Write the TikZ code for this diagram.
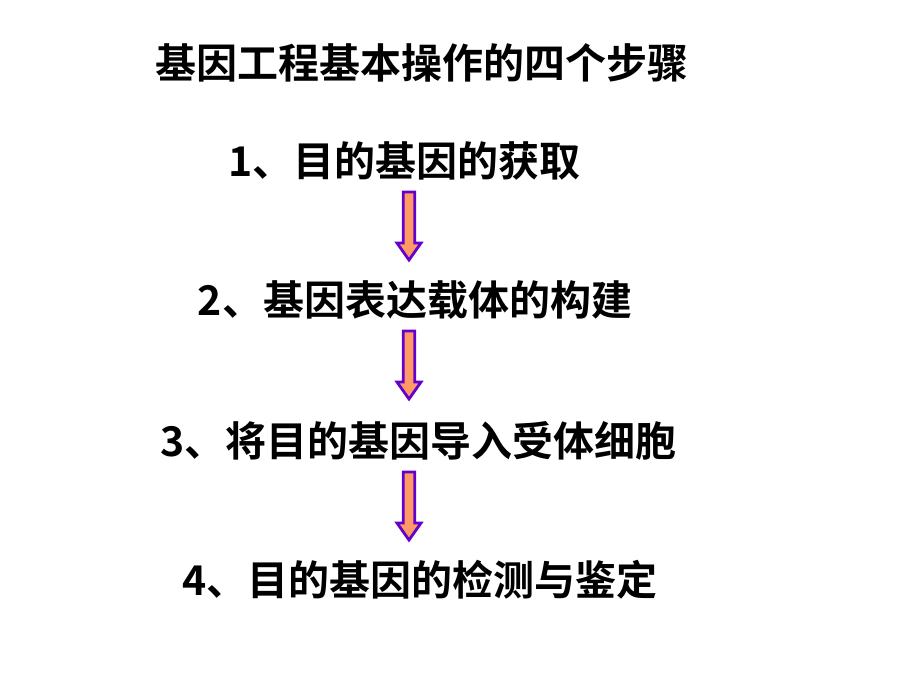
\documentclass[tikz,border=0pt]{standalone}
\usepackage{fontspec}
\usepackage{xcolor}
\usepackage{tikz}
\usetikzlibrary{positioning,calc}
\newfontfamily\cjk{Noto Sans CJK SC Bold}
\definecolor{arrowfill}{RGB}{255,153,102}
\definecolor{arrowline}{RGB}{102,0,204}
\tikzset{
    steptext/.style={font=\cjk\fontsize{41}{49}\selectfont, inner sep=0pt},
    blockarrow/.style={fill=arrowfill, draw=arrowline, line width=2.8pt, line join=miter}
}

\begin{document}
\begin{tikzpicture}[x=1pt,y=-1pt]
    \useasboundingbox (0,0) rectangle (920,690);
    % Title
    \node[steptext] (title) at (421.5,62.5) {基因工程基本操作的四个步骤};

    % The four steps
    \node[steptext] (s1) at (404.5,161) {1、目的基因的获取};
    \node[steptext] (s2) at (415,300) {2、基因表达载体的构建};
    \node[steptext] (s3) at (418.5,441) {3、将目的基因导入受体细胞};
    \node[steptext] (s4) at (420,580) {4、目的基因的检测与鉴定};

    % Block arrows between the steps
    \coordinate (ax) at (409,0);
    \foreach \a in {s1,s2,s3}
        \filldraw[blockarrow] ($(ax |- \a)+(0,31)$) ++(-5.7,0) -- ++(0,51) -- ++(-6.3,0)
            -- ++(12,17) -- ++(12,-17) -- ++(-6.3,0) -- ++(0,-51) -- cycle;
\end{tikzpicture}
\end{document}
